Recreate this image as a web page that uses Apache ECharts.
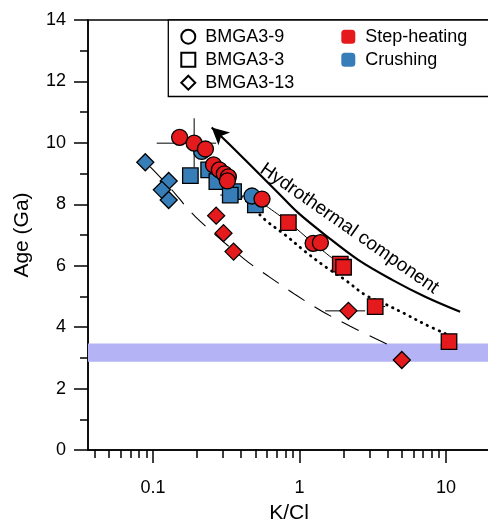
<!DOCTYPE html>
<html><head><meta charset="utf-8">
<script src="https://cdn.jsdelivr.net/npm/echarts@6/dist/echarts.min.js"></script>
<style>html,body{margin:0;padding:0;background:#fff}#c{width:488px;height:522px}</style>
</head><body><div id="c"></div>
<script>
// ---- axis ticks ----
const xMajorTicks = [0.1, 1, 10];
const xMinorTicks = [0.04,0.05,0.06,0.07,0.08,0.09,0.2,0.3,0.4,0.5,0.6,0.7,0.8,0.9,2,3,4,5,6,7,8,9];
const xRange = [0.036, 20];
const yRange = [0, 14];
const bandRange = [2.87, 3.47];

// ---- data: BMGA3-9 (circles) ----
const stepCircleX = [0.152, 0.191, 0.228, 0.259, 0.284, 0.307, 0.327, 0.322, 0.555, 1.24, 1.39];
const stepCircleY = [10.18, 9.99, 9.80, 9.28, 9.12, 8.99, 8.89, 8.76, 8.17, 6.73, 6.75];
const crushCircleX = [0.215, 0.474];
const crushCircleY = [9.72, 8.27];
// ---- BMGA3-3 (squares) ----
const stepSquareX = [0.84, 1.90, 2.0, 3.29, 10.5];
const stepSquareY = [7.40, 6.05, 5.95, 4.67, 3.53];
const crushSquareX = [0.18, 0.24, 0.273, 0.355, 0.337, 0.50];
const crushSquareY = [8.93, 9.12, 8.74, 8.41, 8.30, 7.98];
// ---- BMGA3-13 (diamonds) ----
const stepDiamondX = [0.27, 0.303, 0.355, 2.16, 5.0];
const stepDiamondY = [7.63, 7.06, 6.46, 4.53, 2.93];
const crushDiamondX = [0.0886, 0.128, 0.115, 0.128];
const crushDiamondY = [9.37, 8.76, 8.47, 8.14];

// ---- error bars ----
const errX   = [0.191, 0.152, 2.16, 3.29, 10.5, 0.474, 0.555, 0.337, 1.90, 1.24];
const errY   = [9.99, 10.18, 4.53, 4.67, 3.53, 8.27, 8.17, 8.30, 6.05, 6.73];
const errXLo = [0.106, 0.135, 1.50, 2.90, 9.4, 0.365, 0.50, 0.288, 1.70, 1.12];
const errXHi = [0.27, 0.17, 2.81, 3.85, 11.8, 0.60, 0.63, 0.38, 2.05, 1.45];
const errYLo = [9.2, null, null, null, null, null, null, null, null, null];
const errYHi = [10.8, null, null, null, null, null, null, null, null, null];

// ---- curves ----
const dashedX = [0.0958, 0.1312, 0.1944, 0.4266, 0.626, 0.936, 1.424, 2.223, 4.06];
const dashedY = [9.215, 8.53, 7.60, 6.19, 5.63, 5.06, 4.52, 4.03, 3.42];
const dottedX = [0.365, 0.427, 0.584, 0.80, 1.095, 1.50, 2.05, 2.81, 3.85, 5.27, 7.22, 9.9];
const dottedY = [8.34, 8.14, 7.49, 7.00, 6.46, 5.97, 5.54, 5.05, 4.75, 4.43, 4.09, 3.79];
const thinX = [0.474, 0.84, 1.24, 1.96];
const thinY = [8.27, 7.42, 6.74, 5.99];
const hydroX = [0.2516, 0.328, 0.4266, 0.7167, 0.981, 1.50, 2.52, 4.30, 7.22, 12.5];
const hydroY = [10.50, 9.98, 9.44, 8.37, 7.72, 7.00, 6.19, 5.54, 4.99, 4.50];
const hydroLabel = 'Hydrothermal component';
const hydroLabelAt = [2.19, 7.21];

const RED = '#e41a1c', BLUE = '#377eb8';
const FONT = 'Liberation Sans, Arial, Helvetica, sans-serif';
const zip = (a, b) => a.map((v, i) => [v, b[i]]);

function pts(name, xs, ys, symbol, size, color, z) {
  return {
    type: 'scatter', name, data: zip(xs, ys), symbol, symbolSize: size, z,
    itemStyle: { color, borderColor: '#000', borderWidth: 1.3, opacity: 1 },
    silent: true
  };
}
function curve(xs, ys, lineStyle) {
  return { type: 'line', data: zip(xs, ys), showSymbol: false, symbol: 'none', smooth: 0.35,
    lineStyle, z: 3, silent: true };
}
function legendOnly(name, symbol, fill, border) {
  return { type: 'scatter', name, data: [], symbol,
    itemStyle: { color: fill, borderColor: border ? '#000' : fill, borderWidth: border ? 1.3 : 0, opacity: 1 } };
}

const chart = echarts.init(document.getElementById('c'), null, { renderer: 'canvas' });
const axisCommon = {
  axisLine: { show: true, lineStyle: { color: '#000', width: 1.5 } },
  splitLine: { show: false }
};
const legendCommon = {
  top: 27.7, orient: 'vertical', itemWidth: 14, itemHeight: 14, itemGap: 5, padding: 0,
  selectedMode: false, z: 10, formatter: n => ' ' + n,
  textStyle: { fontSize: 18, lineHeight: 18, color: '#000', fontFamily: FONT }
};
chart.setOption({
  animation: false,
  textStyle: { fontFamily: FONT },
  grid: { left: 88, top: 20, right: -2, bottom: 72, show: true, borderColor: '#000', borderWidth: 1.5,
    containLabel: false, outerBoundsMode: 'none' },
  xAxis: [{
    ...axisCommon, type: 'log', min: xRange[0], max: xRange[1], position: 'bottom',
    name: 'K/Cl', nameLocation: 'middle', nameGap: 53,
    nameTextStyle: { fontSize: 21, color: '#000', fontFamily: FONT },
    axisTick: { show: true, length: 13, customValues: xMajorTicks, lineStyle: { color: '#000', width: 1.5 } },
    axisLabel: { customValues: xMajorTicks, fontSize: 18, color: '#000', margin: 29, fontFamily: FONT },
    minorTick: { show: false }
  }, {
    type: 'log', min: xRange[0], max: xRange[1], position: 'bottom', gridIndex: 0,
    axisLine: { show: false }, splitLine: { show: false },
    axisLabel: { show: false },
    axisTick: { show: true, length: 8, customValues: xMinorTicks, lineStyle: { color: '#000', width: 1.5 } }
  }],
  yAxis: {
    ...axisCommon, type: 'value', min: yRange[0], max: yRange[1], interval: 2,
    name: 'Age (Ga)', nameLocation: 'middle', nameGap: 55,
    nameTextStyle: { fontSize: 21, color: '#000', fontFamily: FONT },
    axisTick: { show: true, length: 14, lineStyle: { color: '#000', width: 1.5 } },
    minorTick: { show: true, splitNumber: 2, length: 8, lineStyle: { color: '#000', width: 1.5 } },
    axisLabel: { fontSize: 18, color: '#000', margin: 22, fontFamily: FONT }
  },
  graphic: [{
    type: 'rect', z: 1,
    shape: { x: 168.3, y: 20, width: 360, height: 76.5 },
    style: { fill: '#fff', stroke: '#000', lineWidth: 1.3 }
  }],
  legend: [{
    ...legendCommon, left: 180.3,
    data: [{ name: 'BMGA3-9', icon: 'circle' }, { name: 'BMGA3-3', icon: 'rect' }, { name: 'BMGA3-13', icon: 'diamond' }]
  }, {
    ...legendCommon, left: 341.3,
    data: [{ name: 'Step-heating', icon: 'roundRect' }, { name: 'Crushing', icon: 'roundRect' }]
  }],
  series: [
    { type: 'scatter', data: [], z: 1, silent: true,
      markArea: { silent: true, itemStyle: { color: '#b3b3f5', opacity: 1 },
        data: [[{ yAxis: bandRange[0] }, { yAxis: bandRange[1] }]] } },
    { type: 'custom', z: 2, silent: true,
      data: errX.map((v, i) => [v, errY[i]]),
      encode: { x: 0, y: 1 },
      renderItem(params, api) {
        const i = params.dataIndex, ch = [];
        const st = { stroke: '#000', lineWidth: 1 };
        if (errXLo[i] != null) {
          const a = api.coord([errXLo[i], errY[i]]), b = api.coord([errXHi[i], errY[i]]);
          ch.push({ type: 'line', shape: { x1: a[0], y1: a[1], x2: b[0], y2: b[1] }, style: st });
        }
        if (errYLo[i] != null) {
          const a = api.coord([errX[i], errYLo[i]]), b = api.coord([errX[i], errYHi[i]]);
          ch.push({ type: 'line', shape: { x1: a[0], y1: a[1], x2: b[0], y2: b[1] }, style: st });
        }
        return { type: 'group', children: ch };
      } },
    curve(dashedX, dashedY, { color: '#000', width: 1.1, type: [19, 12] }),
    curve(dottedX, dottedY, { color: '#000', width: 2.8, type: [0.5, 6], cap: 'round' }),
    curve(thinX, thinY, { color: '#000', width: 1 }),
    curve(hydroX, hydroY, { color: '#000', width: 2.2 }),
    { type: 'scatter', data: [[hydroX[0], hydroY[0]]], symbol: 'arrow', symbolSize: [13, 17],
      symbolRotate: 48, itemStyle: { color: '#000', opacity: 1 }, z: 4, silent: true },
    { type: 'scatter', data: [hydroLabelAt], symbolSize: 0, z: 4, silent: true,
      label: { show: true, position: 'inside', formatter: hydroLabel, rotate: -35,
        fontSize: 19, color: '#000', fontFamily: FONT, align: 'center', verticalAlign: 'middle',
        textBorderWidth: 0, opacity: 1 } },
    pts('crushDiamond', crushDiamondX, crushDiamondY, 'diamond', 17, BLUE, 5),
    pts('crushSquare', crushSquareX, crushSquareY, 'rect', 15.5, BLUE, 5),
    pts('crushCircle', crushCircleX, crushCircleY, 'circle', 16, BLUE, 5),
    pts('stepDiamond', stepDiamondX, stepDiamondY, 'diamond', 17, RED, 6),
    pts('stepSquare', stepSquareX, stepSquareY, 'rect', 15.5, RED, 6),
    pts('stepCircle', stepCircleX, stepCircleY, 'circle', 16, RED, 6),
    // legend-only series
    legendOnly('BMGA3-9', 'circle', '#fff', true),
    legendOnly('BMGA3-3', 'rect', '#fff', true),
    legendOnly('BMGA3-13', 'diamond', '#fff', true),
    legendOnly('Step-heating', 'roundRect', RED, false),
    legendOnly('Crushing', 'roundRect', BLUE, false)
  ]
});
</script></body></html>
